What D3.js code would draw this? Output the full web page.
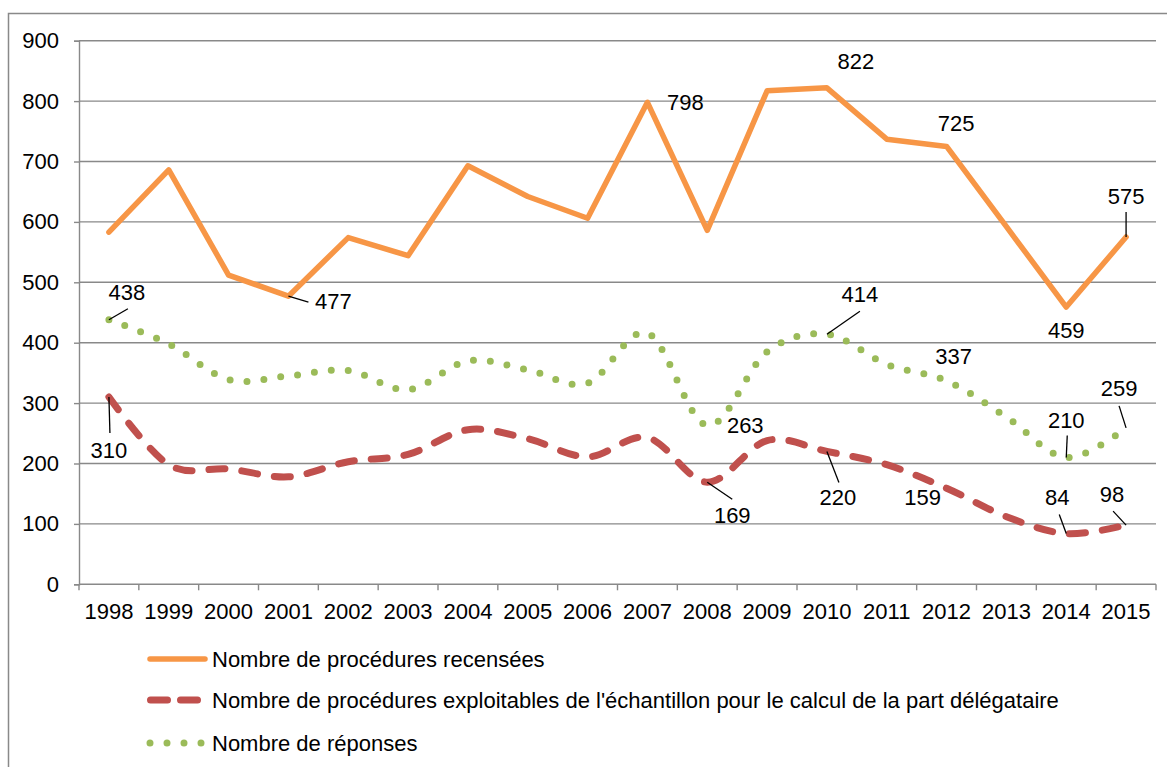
<!DOCTYPE html>
<html>
<head>
<meta charset="utf-8">
<script src="https://cdn.jsdelivr.net/npm/d3@7"></script>
<style>
  html, body { margin: 0; padding: 0; background: #fff; }
  svg { display: block; }
  text { font-family: "Liberation Sans", Arial, sans-serif; fill: #000; }
</style>
</head>
<body>
<svg id="chart" width="1167" height="767"></svg>
<script>
// ---- data ----
const years = ["1998","1999","2000","2001","2002","2003","2004","2005","2006","2007","2008","2009","2010","2011","2012","2013","2014","2015"];
const recensees    = [583, 686, 512, 477, 574, 544, 693, 642, 606, 798, 586, 817, 822, 737, 725, 592, 459, 575];
const exploitables = [310, 198, 191, 178, 203, 215, 256, 241, 211, 243, 169, 238, 220, 198, 159, 112, 84, 98];
const reponses     = [438, 398, 339, 345, 354, 322, 370, 355, 333, 416, 263, 385, 414, 364, 337, 277, 210, 259];
const yTicks = [0, 100, 200, 300, 400, 500, 600, 700, 800, 900];
const seriesNames = [
  "Nombre de procédures recensées",
  "Nombre de procédures exploitables de l'échantillon pour le calcul de la part délégataire",
  "Nombre de réponses"
];
// which points carry a value label (index into years)
const labelRecensees    = [3, 9, 12, 14, 16, 17];
const labelExploitables = [0, 10, 12, 14, 16, 17];
const labelReponses     = [0, 10, 12, 14, 16, 17];

// ---- layout / style ----
const svg = d3.select("#chart");
const plot = { left: 79, right: 1156, top: 40.7, bottom: 584.3 };
const FONT = 22;
const colors = { rec: "#F79646", exp: "#C0504D", rep: "#9BBB59", grid: "#898989" };

const x = d3.scaleBand().domain(years).range([plot.left, plot.right]).padding(0);
const xc = d => x(d) + x.bandwidth() / 2;
const y = d3.scaleLinear().domain([0, 900]).range([plot.bottom, plot.top]);

// outer border
svg.append("rect").attr("x", 8.5).attr("y", 13.5).attr("width", 1200).attr("height", 800)
  .attr("fill", "none").attr("stroke", colors.grid).attr("stroke-width", 1.5);

// gridlines
svg.append("g").selectAll("line").data(yTicks.filter(t => t > 0)).join("line")
  .attr("x1", plot.left).attr("x2", plot.right)
  .attr("y1", d => y(d)).attr("y2", d => y(d))
  .attr("stroke", colors.grid).attr("stroke-width", 1.4);

// y axis
const yAxis = d3.axisLeft(y).tickValues(yTicks).tickSize(5).tickPadding(15);
const gy = svg.append("g").attr("transform", `translate(${plot.left},0)`).call(yAxis);
gy.select(".domain").attr("stroke", colors.grid).attr("stroke-width", 1.4);
gy.selectAll(".tick line").attr("stroke", colors.grid).attr("stroke-width", 1.4);
gy.selectAll(".tick text").attr("font-size", FONT).attr("font-family", "Liberation Sans, Arial, sans-serif").attr("fill", "#000");

// x axis (ticks at category boundaries)
const gx = svg.append("g");
gx.append("line").attr("x1", plot.left).attr("x2", plot.right)
  .attr("y1", plot.bottom).attr("y2", plot.bottom)
  .attr("stroke", colors.grid).attr("stroke-width", 1.4);
const boundaries = years.map(d => x(d)).concat([x(years[years.length - 1]) + x.bandwidth()]);
gx.selectAll("line.tk").data(boundaries).join("line").attr("class", "tk")
  .attr("x1", d => d).attr("x2", d => d)
  .attr("y1", plot.bottom).attr("y2", plot.bottom + 6)
  .attr("stroke", colors.grid).attr("stroke-width", 1.4);
gx.selectAll("text").data(years).join("text")
  .attr("x", d => xc(d)).attr("y", 618.5)
  .attr("text-anchor", "middle").attr("font-size", FONT).text(d => d);

// lines
const mk = (curve) => d3.line().x((d, i) => xc(years[i])).y(d => y(d)).curve(curve);
svg.append("path").datum(exploitables).attr("d", mk(d3.curveCardinal.tension(0)))
  .attr("fill", "none").attr("stroke", colors.exp).attr("stroke-width", 7)
  .attr("stroke-dasharray", "16 17").attr("stroke-linecap", "round");
svg.append("path").datum(reponses).attr("d", mk(d3.curveCardinal.tension(0)))
  .attr("fill", "none").attr("stroke", colors.rep).attr("stroke-width", 7)
  .attr("stroke-dasharray", "0 17").attr("stroke-linecap", "round");
svg.append("path").datum(recensees).attr("d", mk(d3.curveLinear))
  .attr("fill", "none").attr("stroke", colors.rec).attr("stroke-width", 5.5)
  .attr("stroke-linejoin", "round").attr("stroke-linecap", "round");

// value labels: offsets of text centre and leader end relative to the point
const labelSpecs = [
  { values: recensees, idx: labelRecensees,
    off: [[45, 5], [38, 0], [29, -27], [9.5, -23], [0, 23], [0, -41]],
    lead: [[20, 6], null, null, null, null, [0, -25]] },
  { values: exploitables, idx: labelExploitables,
    off: [[0, 53], [25, 33], [11, 46], [-24, 9], [-9, -36], [-14, -31]],
    lead: [[1, 36], [25, 17], [12, 31], null, [-7, -19], [-13, -14]] },
  { values: reponses, idx: labelReponses,
    off: [[18, -28], [38, 0], [33, -40], [7, -25], [0, -37], [-7, -40]],
    lead: [[19, -11], null, [33, -23], null, [1, -22], [-7, -22]] }
];
const gl = svg.append("g");
labelSpecs.forEach(spec => {
  spec.idx.forEach((i, k) => {
    const px = xc(years[i]), py = y(spec.values[i]);
    const l = spec.lead[k];
    if (l) {
      gl.append("line").attr("x1", px).attr("y1", py).attr("x2", px + l[0]).attr("y2", py + l[1])
        .attr("stroke", "#000").attr("stroke-width", 1.3);
    }
    gl.append("text").attr("x", px + spec.off[k][0]).attr("y", py + spec.off[k][1])
      .attr("dy", "0.36em").attr("text-anchor", "middle").attr("font-size", FONT)
      .text(spec.values[i]);
  });
});

// legend
const legY = [659, 700, 743];
const lg = svg.append("g");
lg.append("line").attr("x1", 150).attr("x2", 205).attr("y1", legY[0]).attr("y2", legY[0])
  .attr("stroke", colors.rec).attr("stroke-width", 5.5).attr("stroke-linecap", "round");
lg.append("line").attr("x1", 150.5).attr("x2", 206).attr("y1", legY[1]).attr("y2", legY[1])
  .attr("stroke", colors.exp).attr("stroke-width", 7).attr("stroke-linecap", "round")
  .attr("stroke-dasharray", "17 13");
lg.append("line").attr("x1", 150).attr("x2", 206).attr("y1", legY[2]).attr("y2", legY[2])
  .attr("stroke", colors.rep).attr("stroke-width", 7).attr("stroke-linecap", "round")
  .attr("stroke-dasharray", "0 17");
lg.selectAll("text").data(seriesNames).join("text")
  .attr("x", 212).attr("y", (d, i) => legY[i]).attr("dy", "0.36em")
  .attr("font-size", FONT).text(d => d);
</script>
</body>
</html>
